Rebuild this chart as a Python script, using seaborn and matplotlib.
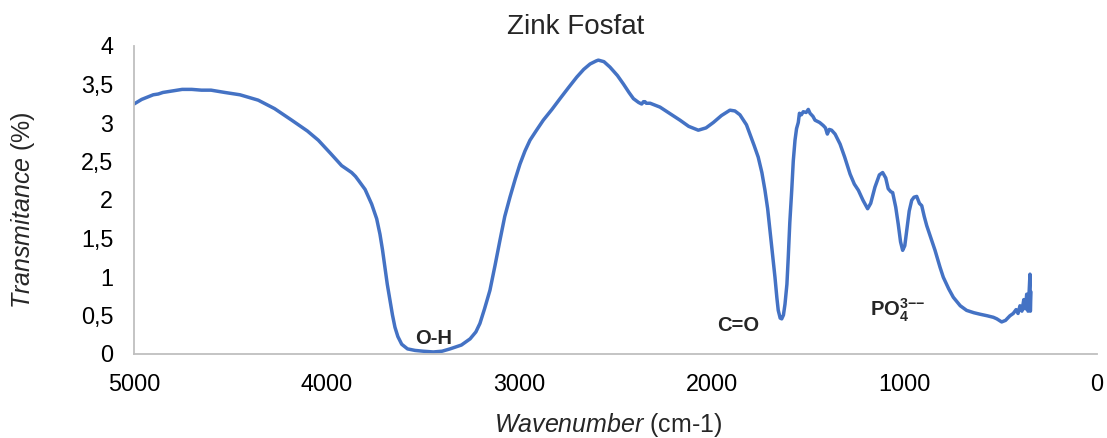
# plot.py
# FTIR spectrum of zinc phosphate, redrawn from an Excel-style chart

import numpy as np
import pandas as pd
import seaborn as sns
import matplotlib.pyplot as plt


# Data

wavenumber = [
    5000, 4960, 4930, 4900, 4874, 4850, 4800, 4750, 4700, 4650, 4600, 4528,
    4450, 4355, 4270, 4181, 4100, 4043, 3980, 3922, 3870, 3850, 3835, 3800,
    3766, 3740, 3723, 3710, 3697, 3685, 3671, 3658, 3645, 3630, 3610, 3580,
    3541, 3500, 3446, 3400, 3359, 3300, 3255, 3225, 3204, 3180, 3152, 3125,
    3100, 3075, 3048, 3020, 2996, 2970, 2944, 2910, 2875, 2830, 2788, 2745,
    2701, 2665, 2632, 2600, 2589, 2560, 2529, 2490, 2459, 2430, 2407, 2380,
    2364, 2355, 2347, 2340, 2320, 2269, 2220, 2165, 2120, 2070, 2030, 1992,
    1950, 1906, 1880, 1854, 1820, 1802, 1780, 1759, 1740, 1724, 1710, 1698,
    1685, 1672, 1662, 1655, 1645, 1637, 1628, 1620, 1610, 1603, 1595, 1585,
    1577, 1568, 1560, 1551, 1545, 1535, 1525, 1510, 1499, 1490, 1475, 1464,
    1440, 1421, 1410, 1400, 1390, 1378, 1360, 1334, 1310, 1282, 1260, 1239,
    1215, 1191, 1175, 1153, 1130, 1113, 1097, 1084, 1070, 1061, 1045, 1032,
    1020, 1009, 998, 988, 975, 962, 950, 936, 922, 910, 897, 884,
    860, 841, 815, 798, 770, 746, 710, 677, 640, 607, 570, 538,
    520, 495, 475, 452, 435, 420, 410, 400, 390, 380, 372, 365,
    358, 352, 348, 346, 343,
]

transmitance = [
    3.24, 3.30, 3.33, 3.36, 3.37, 3.39, 3.41, 3.43, 3.43, 3.42, 3.42, 3.39,
    3.36, 3.29, 3.18, 3.03, 2.89, 2.77, 2.60, 2.44, 2.35, 2.30, 2.25, 2.13,
    1.94, 1.75, 1.55, 1.35, 1.12, 0.90, 0.69, 0.50, 0.34, 0.22, 0.12, 0.06,
    0.04, 0.03, 0.02, 0.03, 0.06, 0.11, 0.19, 0.28, 0.39, 0.58, 0.82, 1.15,
    1.47, 1.78, 2.03, 2.27, 2.46, 2.63, 2.77, 2.90, 3.03, 3.17, 3.31, 3.45,
    3.59, 3.69, 3.76, 3.80, 3.81, 3.79, 3.72, 3.61, 3.50, 3.39, 3.31, 3.26,
    3.24, 3.27, 3.27, 3.25, 3.25, 3.20, 3.12, 3.03, 2.95, 2.90, 2.93, 3.00,
    3.09, 3.16, 3.15, 3.10, 2.97, 2.85, 2.70, 2.55, 2.35, 2.12, 1.88, 1.60,
    1.30, 0.99, 0.72, 0.56, 0.46, 0.45, 0.50, 0.64, 0.90, 1.25, 1.70, 2.12,
    2.50, 2.77, 2.92, 3.00, 3.12, 3.10, 3.14, 3.13, 3.17, 3.12, 3.08, 3.03,
    3.00, 2.96, 2.93, 2.85, 2.91, 2.90, 2.85, 2.72, 2.55, 2.33, 2.20, 2.12,
    1.99, 1.88, 1.95, 2.16, 2.32, 2.35, 2.28, 2.14, 2.10, 2.09, 1.90, 1.68,
    1.45, 1.34, 1.40, 1.60, 1.85, 1.99, 2.03, 2.04, 1.95, 1.92, 1.78, 1.66,
    1.48, 1.34, 1.12, 0.99, 0.84, 0.73, 0.62, 0.56, 0.53, 0.51, 0.49, 0.47,
    0.45, 0.41, 0.43, 0.49, 0.52, 0.57, 0.52, 0.62, 0.55, 0.70, 0.58, 0.77,
    0.55, 0.82, 1.03, 0.55, 0.80,
]

# Tick values and labels (decimal comma as in the original)
x_ticks = [5000, 4000, 3000, 2000, 1000, 0]
x_tick_labels = ['5000', '4000', '3000', '2000', '1000', '0']
y_ticks = [0, 0.5, 1, 1.5, 2, 2.5, 3, 3.5, 4]
y_tick_labels = ['0', '0,5', '1', '1,5', '2', '2,5', '3', '3,5', '4']

# Band labels and where they sit
band_labels = ['O-H', 'C=O', r'$\mathbf{PO_4^{3{-}{-}}}$']
band_x = [3442, 1864, 1179]
band_y = [0.20, 0.37, 0.565]
band_ha = ['center', 'center', 'left']

df = pd.DataFrame({'wavenumber': wavenumber, 'transmitance': transmitance})


# Style
sns.set_style('white')
plt.rcParams['font.family'] = ['Liberation Sans', 'DejaVu Sans']
plt.rcParams['mathtext.fontset'] = 'custom'
plt.rcParams['mathtext.rm'] = 'Liberation Sans'
plt.rcParams['mathtext.it'] = 'Liberation Sans:italic'
plt.rcParams['mathtext.bf'] = 'Liberation Sans:bold'

fig, ax = plt.subplots(figsize=(11.07, 4.38), dpi=100)
fig.subplots_adjust(left=134 / 1107, right=1097 / 1107,
                    bottom=1 - 353.5 / 438, top=1 - 45.5 / 438)

# The spectrum
sns.lineplot(data=df, x='wavenumber', y='transmitance', ax=ax,
             sort=False, estimator=None, color='#4472C4', linewidth=2.5)

# Axes limits, ticks
ax.set_xlim(5000, 0)
ax.set_ylim(0, 4)
ax.set_xticks(x_ticks)
ax.set_xticklabels(x_tick_labels)
ax.set_yticks(y_ticks)
ax.set_yticklabels(y_tick_labels)
ax.tick_params(axis='both', length=0, labelsize=16.8, colors='#000000')
ax.tick_params(axis='x', pad=14)
ax.tick_params(axis='y', pad=15)

# Only the left and bottom axis lines, light gray
sns.despine(ax=ax)
for side in ['left', 'bottom']:
    ax.spines[side].set_color('#BFBFBF')
    ax.spines[side].set_linewidth(1.3)

# Axis labels
ax.set_xlabel(r'$\mathit{Wavenumber}$ (cm-1)', fontsize=18)
ax.set_ylabel(r'$\mathit{Transmitance}$ (%)', fontsize=18)
ax.xaxis.set_label_coords(0.492, -0.186)
ax.yaxis.set_label_coords(-0.1007, 0.466)

# Band labels
for label, bx, by, ha in zip(band_labels, band_x, band_y, band_ha):
    ax.text(bx, by, label, fontsize=14.5, fontweight='bold', ha=ha, va='center')

# Title
fig.text(576 / 1107, 1 - 27 / 438, 'Zink Fosfat', fontsize=20,
         ha='center', va='center')

plt.savefig('out.png', dpi=100)
